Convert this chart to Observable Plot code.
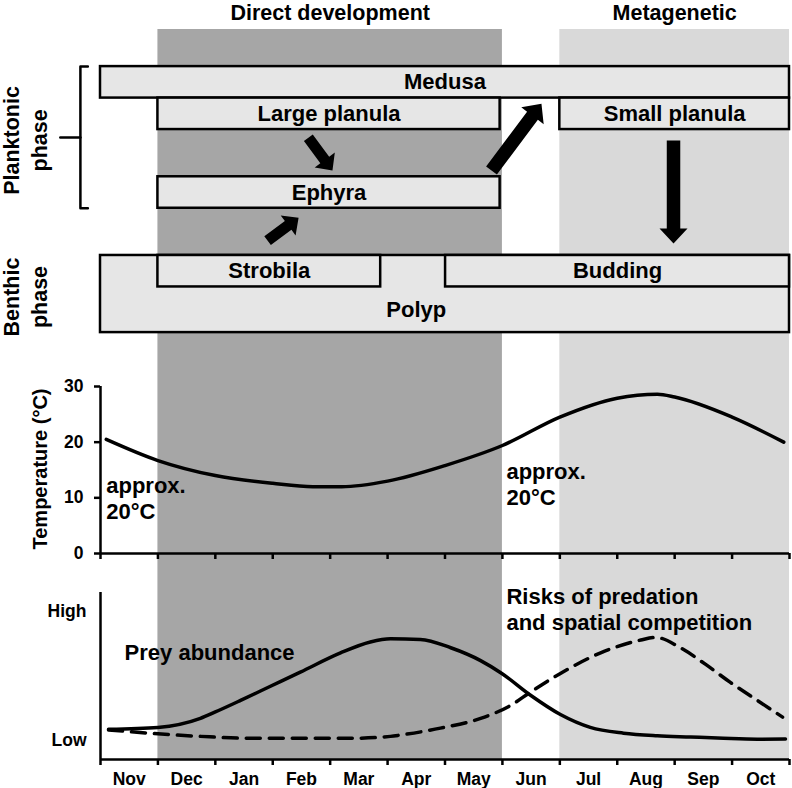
<!DOCTYPE html>
<html>
<head>
<meta charset="utf-8">
<script src="https://cdn.jsdelivr.net/npm/d3@7"></script>
<script src="https://cdn.jsdelivr.net/npm/@observablehq/plot@0.6"></script>
<style>
  body { margin: 0; background: #fff; }
  #chart { position: relative; width: 792px; height: 788px; }
  #chart > svg { position: absolute; left: 0; }
</style>
</head>
<body>
<div id="chart"></div>
<script>
// ---------------- DATA ----------------
const months = ["Nov", "Dec", "Jan", "Feb", "Mar", "Apr", "May", "Jun", "Jul", "Aug", "Sep", "Oct"];

// periods (month index units, 0 = start of Nov)
const periodNames = ["Direct development", "Metagenetic"];
const periodStart = [1, 8];
const periodEnd = [7, 12];
const periodShade = ["dark", "light"];

// life-cycle stages (x in months, y in diagram lanes)
const stageNames  = ["Medusa", "Polyp", "Large planula", "Small planula", "Ephyra", "Strobila", "Budding"];
const stageStart  = [0, 0, 1, 8, 1, 1, 6.01];
const stageEnd    = [12, 12, 6.96, 12, 6.96, 4.88, 12];
const stageTop    = [0, 6, 1, 1, 3.5, 6, 6];
const stageBottom = [1, 8.45, 2, 2, 4.5, 7, 7];
const stageLabelX = [null, 5.5, null, null, null, null, null];
const stageLabelY = [null, 7.72, null, null, null, null, null];

// phase groups (lanes)
const phaseNames = ["Planktonic\nphase", "Benthic\nphase"];
const phaseTop = [0, 6];
const phaseBottom = [4.5, 8.45];
const phaseBracket = [true, false];

// arrows between stages (month, lane)
const arrowFromX = [3.62, 2.91, 6.81, 9.98];
const arrowFromY = [2.26, 5.53, 3.30, 2.35];
const arrowToX   = [4.04, 3.45, 7.68, 9.98];
const arrowToY   = [3.30, 4.80, 1.18, 5.62];
const arrowWeight = ["minor", "minor", "major", "major"];

// temperature (°C)
const tempMonth = [0.1, 1, 2, 3, 3.7, 4.2, 5, 6, 7, 8, 9, 9.7, 10, 11, 11.9];
const tempValue = [20.5, 16.7, 14, 12.6, 12.0, 12.0, 13.0, 15.8, 19.4, 24.5, 27.9, 28.6, 28.1, 24.5, 20.0];
const tempTicks = [0, 10, 20, 30];
const tempNoteText = ["approx.\n20°C", "approx.\n20°C"];
const tempNoteMonth = [0.1, 7.07];
const tempNoteValue = [10.06, 12.57];

// prey abundance (relative: 0 = Low, 1 = High)
const preyMonth = [0.14, 1.0, 1.74, 2.0, 2.44, 2.96, 3.48, 4.18, 4.70, 5.05, 5.57, 6.10, 6.62, 6.99, 7.49, 8.01, 8.53, 9.11, 9.70, 10.28, 10.85, 11.44, 11.93];
const preyValue = [0.086, 0.10, 0.17, 0.22, 0.31, 0.42, 0.53, 0.68, 0.765, 0.79, 0.785, 0.72, 0.62, 0.52, 0.35, 0.20, 0.10, 0.055, 0.035, 0.025, 0.015, 0.008, 0.01];

// risks of predation and spatial competition
const riskMonth = [0.14, 1.0, 1.74, 2.61, 3.48, 4.35, 5.05, 5.22, 5.92, 6.62, 7.14, 7.49, 8.01, 8.71, 9.41, 9.67, 10.10, 10.54, 10.97, 11.44, 11.88];
const riskValue = [0.08, 0.05, 0.03, 0.015, 0.015, 0.015, 0.03, 0.04, 0.094, 0.17, 0.27, 0.375, 0.52, 0.68, 0.78, 0.80, 0.72, 0.59, 0.45, 0.31, 0.18];

const levelTicks = [0, 1];
const levelLabels = ["Low", "High"];
const noteText = ["Prey abundance", "Risks of predation\nand spatial competition"];
const noteMonth = [0.42, 7.07];
const noteValue = [0.69, 1.025];

// ---------------- TABLES ----------------
const periods = periodNames.map((name, i) => ({name, start: periodStart[i], end: periodEnd[i], shade: periodShade[i]}));
const stages = stageNames.map((name, i) => ({
  name, start: stageStart[i], end: stageEnd[i], top: stageTop[i], bottom: stageBottom[i],
  lx: stageLabelX[i] ?? (stageStart[i] + stageEnd[i]) / 2,
  ly: stageLabelY[i] ?? (stageTop[i] + stageBottom[i]) / 2
}));
const phases = phaseNames.map((name, i) => ({name, top: phaseTop[i], bottom: phaseBottom[i], bracket: phaseBracket[i]}));
const arrows = arrowFromX.map((x1, i) => ({x1, y1: arrowFromY[i], x2: arrowToX[i], y2: arrowToY[i], weight: arrowWeight[i]}));
const temp = tempMonth.map((m, i) => ({month: m, value: tempValue[i]}));
const tempNotes = tempNoteText.map((t, i) => ({text: t, month: tempNoteMonth[i], value: tempNoteValue[i]}));
const prey = preyMonth.map((m, i) => ({month: m, value: preyValue[i]}));
const risk = riskMonth.map((m, i) => ({month: m, value: riskValue[i]}));
const notes = noteText.map((t, i) => ({text: t, month: noteMonth[i], value: noteValue[i]}));
const monthBounds = d3.range(0, 13);
const monthCenters = months.map((_, i) => i + 0.5);

// ---------------- LAYOUT / STYLE ----------------
const W = 792;
const ML = 100, MR = 3;
const FONT = "'Liberation Sans', Arial, Helvetica, sans-serif";
const baseStyle = {fontFamily: FONT, fontWeight: "bold", background: "transparent", overflow: "visible", color: "black"};
const xScale = {domain: [0, 12]};
const chart = document.getElementById("chart");
function place(svg, top) { svg.style.top = top + "px"; chart.appendChild(svg); }

// background shading + period titles
const bg = Plot.plot({
  width: W, height: 788, marginLeft: ML, marginRight: MR, marginTop: 29, marginBottom: 29,
  x: {...xScale, axis: null}, y: {axis: null},
  color: {domain: ["dark", "light"], range: ["#a6a6a6", "#d9d9d9"]},
  style: baseStyle,
  marks: [
    Plot.rect(periods, {x1: "start", x2: "end", fill: "shade"}),
    Plot.text(periods, {x: d => (d.start + d.end) / 2, frameAnchor: "top", lineAnchor: "middle", textAnchor: "middle",
      dy: -16, text: "name", fontSize: 21.5, fontWeight: "bold"})
  ]
});
place(bg, 0);

// top diagram
const H1 = 362;
const yLane = {domain: [9.4, -2.1]};
const sx = Plot.scale({x: {domain: [0, 12], range: [ML, W - MR]}});
const sy = Plot.scale({y: {domain: yLane.domain, range: [H1, 0]}});

function blockArrow(shaft, headW, headL) {
  return {
    draw(ctx, l) {
      const w = shaft / 2, h = headW / 2, b = l - headL;
      ctx.moveTo(-w, 0); ctx.lineTo(-w, -b); ctx.lineTo(-h, -b); ctx.lineTo(0, -l);
      ctx.lineTo(h, -b); ctx.lineTo(w, -b); ctx.lineTo(w, 0); ctx.closePath();
    }
  };
}
const arrowShapes = {minor: blockArrow(11, 25, 13), major: blockArrow(13.5, 28, 15)};
const arrowMarks = arrows.map(a => {
  const px1 = sx.apply(a.x1), py1 = sy.apply(a.y1), px2 = sx.apply(a.x2), py2 = sy.apply(a.y2);
  const L = Math.hypot(px2 - px1, py2 - py1);
  const R = Math.atan2(px2 - px1, -(py2 - py1)) * 180 / Math.PI;
  return Plot.vector([a], {x: d => d.x1, y: d => d.y1, length: L, rotate: R, anchor: "start",
    shape: arrowShapes[a.weight], fill: "black", stroke: "none"});
});

const bracketPts = phases.filter(p => p.bracket).flatMap(p => [
  [{x: -0.22, y: p.top}, {x: -0.35, y: p.top}, {x: -0.35, y: p.bottom}, {x: -0.22, y: p.bottom}],
  [{x: -0.35, y: (p.top + p.bottom) / 2}, {x: -0.70, y: (p.top + p.bottom) / 2}]
]);

const topPlot = Plot.plot({
  width: W, height: H1, marginLeft: ML, marginRight: MR, marginTop: 0, marginBottom: 0,
  x: {...xScale, axis: null}, y: {...yLane, axis: null},
  style: baseStyle,
  marks: [
    Plot.rect(stages, {x1: "start", x2: "end", y1: "top", y2: "bottom", fill: "#e6e6e6", stroke: "black", strokeWidth: 2.5}),
    Plot.text(stages, {x: "lx", y: "ly", text: "name", fontSize: 22, fontWeight: "bold"}),
    ...arrowMarks,
    ...bracketPts.map(seg => Plot.line(seg, {x: "x", y: "y", stroke: "black", strokeWidth: 2.5})),
    Plot.text(phases, {y: d => (d.top + d.bottom) / 2, frameAnchor: "left", textAnchor: "middle", lineAnchor: "middle",
      dx: -76, dy: 3, rotate: -90, text: "name", fontSize: 21.5, fontWeight: "bold", lineHeight: 1.3})
  ]
});
place(topPlot, 0);

// temperature panel
const tempPlot = Plot.plot({
  width: W, height: 210, marginLeft: ML, marginRight: MR, marginTop: 24, marginBottom: 19,
  x: xScale, y: {domain: [0, 30]},
  style: baseStyle,
  marks: [
    Plot.ruleY([0], {strokeWidth: 2.5}),
    Plot.ruleX([0], {strokeWidth: 2.5}),
    Plot.axisX(monthBounds, {tickSize: 6, strokeWidth: 2.5, tickFormat: () => "", label: null}),
    Plot.axisY(tempTicks, {tickSize: 6, tickPadding: 11, strokeWidth: 2.5, fontSize: 17.5, fontWeight: "bold", label: null}),
    Plot.text(["Temperature (°C)"], {frameAnchor: "left", textAnchor: "middle", lineAnchor: "middle", dx: -60, dy: -1,
      rotate: -90, text: d => d, fontSize: 20, fontWeight: "bold"}),
    Plot.line(temp, {x: "month", y: "value", curve: "monotone-x", strokeWidth: 3.5}),
    Plot.text(tempNotes, {x: "month", y: "value", text: "text", textAnchor: "start", fontSize: 22, fontWeight: "bold", lineHeight: 1.18})
  ]
});
place(tempPlot, 362);

// abundance panel
const yMin = -0.15;
const abPlot = Plot.plot({
  width: W, height: 216, marginLeft: ML, marginRight: MR, marginTop: 20, marginBottom: 29,
  x: xScale, y: {domain: [yMin, 1.15]},
  style: baseStyle,
  marks: [
    Plot.ruleY([yMin], {strokeWidth: 2.5}),
    Plot.ruleX([0], {strokeWidth: 2.5}),
    Plot.axisX(monthBounds, {tickSize: 6, strokeWidth: 2.5, tickFormat: () => "", label: null}),
    Plot.axisX(monthCenters, {tickSize: 0, tickPadding: 13, tickFormat: (d, i) => months[i], fontSize: 17.5, fontWeight: "bold", label: null}),
    Plot.axisY(levelTicks, {tickSize: 0, tickPadding: 14, tickFormat: (d, i) => levelLabels[i], fontSize: 17.5, fontWeight: "bold", label: null}),
    Plot.line(risk, {x: "month", y: "value", curve: "monotone-x", strokeWidth: 3.5, strokeDasharray: "14,9"}),
    Plot.line(prey, {x: "month", y: "value", curve: "monotone-x", strokeWidth: 3.5}),
    Plot.text(notes, {x: "month", y: "value", text: "text", textAnchor: "start", fontSize: 22, fontWeight: "bold", lineHeight: 1.18})
  ]
});
place(abPlot, 572);
</script>
</body>
</html>
